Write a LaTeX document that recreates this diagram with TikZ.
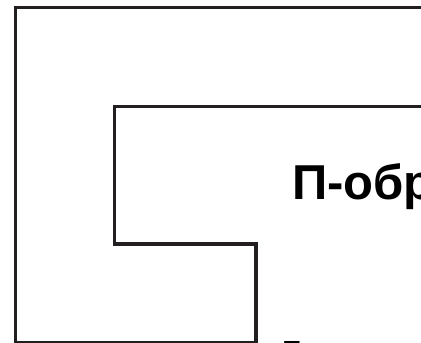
\documentclass[tikz,border=0pt]{standalone}
\usepackage{fontspec}
\setmainfont{Liberation Sans}
\definecolor{ink}{HTML}{231F20}
\begin{document}
\begin{tikzpicture}[x=1pt,y=-1pt,
  wall/.style={draw=ink,line width=3.8pt,line join=miter},
  label/.style={inner sep=0pt,anchor=base west,font=\fontsize{49}{49}\selectfont\bfseries}]
\useasboundingbox (0,0) rectangle (421,343);
\clip (0,0) rectangle (421,343);
\draw[wall] (440,7.5) -- (15.5,7.5) -- (15.5,342.5) -- (256,342.5) -- (256,244) -- (114.5,244) -- (114.5,106.5) -- (440,106.5);
\node[label] (t1) at (292,199) {П-обр};
\node[inner sep=0pt,anchor=north west,font=\fontsize{32}{32}\selectfont\bfseries] (t2) at (282,341) {Г};
\end{tikzpicture}
\end{document}
